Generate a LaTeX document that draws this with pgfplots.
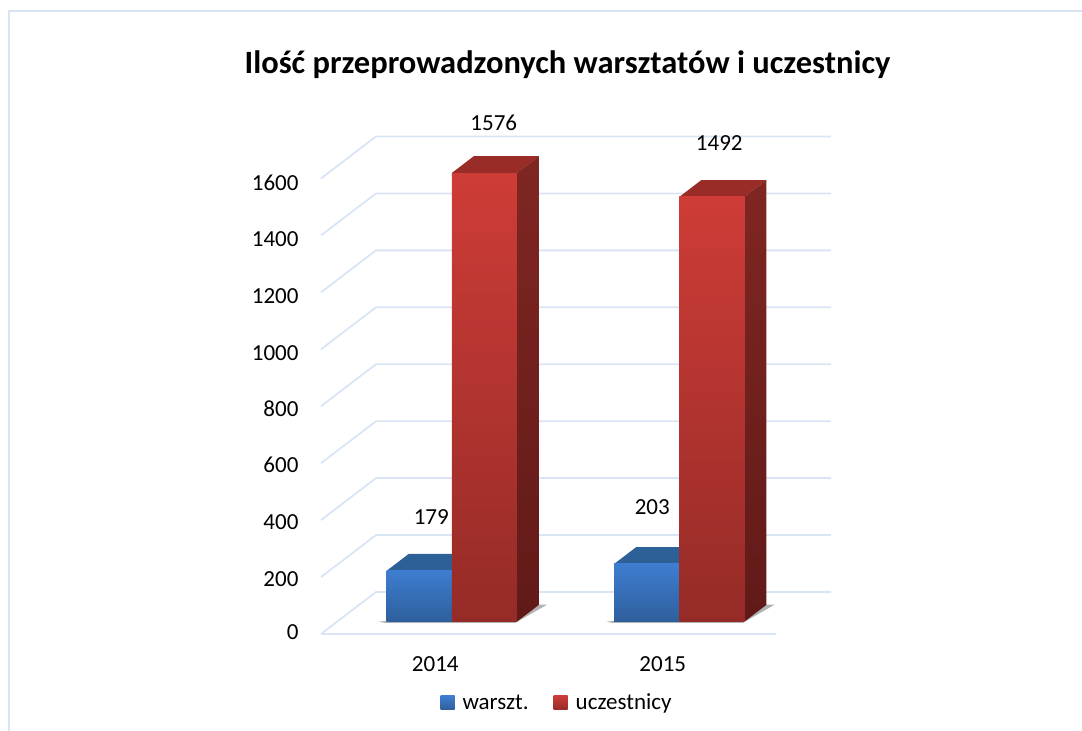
\documentclass[border=0pt]{standalone}
\usepackage{fontspec}
\setmainfont{Carlito}
\usepackage{pgfplots}
\pgfplotsset{compat=1.18}
\definecolor{gridc}{HTML}{D9E5F5}
\definecolor{blueT}{HTML}{3E7DD0}
\definecolor{blueB}{HTML}{2E5F9C}
\definecolor{blueTop}{HTML}{2E6098}
\definecolor{redT}{HTML}{CE3C37}
\definecolor{redB}{HTML}{952B27}
\definecolor{redTop}{HTML}{9A2C28}
\definecolor{redSideT}{HTML}{7F2622}
\definecolor{redSideB}{HTML}{611A18}
\begin{document}
\begin{tikzpicture}[x=1pt,y=1pt]
\useasboundingbox (0,0) rectangle (1082,731);
\draw[gridc,line width=2pt] (8.5,0) -- (8.5,720) -- (1082,720);
\node[font=\bfseries\fontsize{32.5}{36}\selectfont] at (567.5,666) {Ilość przeprowadzonych warsztatów i uczestnicy};
\begin{axis}[
  at={(321pt,97pt)}, anchor=south west,
  x={(227.5pt,0pt)}, y={(55pt,42pt)}, z={(0pt,0.2847pt)},
  xmin=0.5, xmax=2.5, ymin=0, ymax=1, zmin=0, zmax=1600,
  clip=false,
  axis line style={draw=none},
  major tick length=0pt,
  xtick={1,2}, xticklabels={2014,2015},
  ytick=\empty,
  ztick={0,200,400,600,800,1000,1200,1400,1600},
  font=\fontsize{23}{27}\selectfont,
  /pgf/number format/assume math mode=true,
  /pgf/number format/1000 sep={},
  xticklabel style={font=\fontsize{23}{27}\selectfont,yshift=-19pt,xshift=6pt},
  zticklabel style={font=\fontsize{23}{27}\selectfont,yshift=5pt,xshift=-19pt},
  legend columns=2,
  legend style={draw=none, fill=none, at={(0.5,-0.1)}, anchor=north, xshift=-19pt, yshift=-6pt,
    font=\fontsize{23}{27}\selectfont, /tikz/every even column/.append style={column sep=10pt}},
]
% walls
\addplot3[gridc,line width=1.8pt,forget plot] coordinates {(0.5,0,0) (2.5,0,0)};
\pgfplotsinvokeforeach{0,200,400,600,800,1000,1200,1400,1600}{
  \addplot3[gridc,line width=1.8pt,forget plot] coordinates {(0.5,0,#1) (0.5,1,#1) (2.5,1,#1)};
}
% shadows
\addplot3[draw=none,fill=gray!60,forget plot] coordinates {(0.683,0.293,0) (0.718,0.265,0) (1.29,0.265,0) (1.325,0.70,0) (1.29,0.70,0)} -- cycle;
\addplot3[draw=none,fill=gray!60,forget plot] coordinates {(1.683,0.293,0) (1.718,0.265,0) (2.29,0.265,0) (2.325,0.70,0) (2.29,0.70,0)} -- cycle;
% 2014 warszt.
\addplot3[draw=none,fill=blueTop,forget plot] coordinates {(0.718,0.293,179) (1.004,0.293,179) (1.004,0.693,179) (0.718,0.693,179)} -- cycle;
\addplot3[draw=none,top color=blueT,bottom color=blueB,forget plot] coordinates {(0.718,0.293,0) (1.004,0.293,0) (1.004,0.293,179) (0.718,0.293,179)} -- cycle;
% 2014 uczestnicy
\addplot3[draw=none,fill=redTop,forget plot] coordinates {(1.004,0.293,1576) (1.29,0.293,1576) (1.29,0.693,1576) (1.004,0.693,1576)} -- cycle;
\addplot3[draw=none,top color=redSideT,bottom color=redSideB,forget plot] coordinates {(1.29,0.293,0) (1.29,0.693,0) (1.29,0.693,1576) (1.29,0.293,1576)} -- cycle;
\addplot3[draw=none,top color=redT,bottom color=redB,forget plot] coordinates {(1.004,0.293,0) (1.29,0.293,0) (1.29,0.293,1576) (1.004,0.293,1576)} -- cycle;
% 2015 warszt.
\addplot3[draw=none,fill=blueTop,forget plot] coordinates {(1.718,0.293,203) (2.004,0.293,203) (2.004,0.693,203) (1.718,0.693,203)} -- cycle;
\addplot3[draw=none,top color=blueT,bottom color=blueB,forget plot] coordinates {(1.718,0.293,0) (2.004,0.293,0) (2.004,0.293,203) (1.718,0.293,203)} -- cycle;
% 2015 uczestnicy
\addplot3[draw=none,fill=redTop,forget plot] coordinates {(2.004,0.293,1492) (2.29,0.293,1492) (2.29,0.693,1492) (2.004,0.693,1492)} -- cycle;
\addplot3[draw=none,top color=redSideT,bottom color=redSideB,forget plot] coordinates {(2.29,0.293,0) (2.29,0.693,0) (2.29,0.693,1492) (2.29,0.293,1492)} -- cycle;
\addplot3[draw=none,top color=redT,bottom color=redB,forget plot] coordinates {(2.004,0.293,0) (2.29,0.293,0) (2.29,0.293,1492) (2.004,0.293,1492)} -- cycle;
% legend
\addlegendimage{legend image code/.code={\path[draw=none,fill=none] (0,0) -- (20pt,0); \path[draw=none,top color=blueT,bottom color=blueB] (0,-7pt) rectangle (14pt,7pt);}}
\addlegendentry{warszt.}
\addlegendimage{legend image code/.code={\path[draw=none,fill=none] (-13pt,0) -- (20pt,0); \path[draw=none,top color=redT,bottom color=redB] (0,-7pt) rectangle (14pt,7pt);}}
\addlegendentry{uczestnicy}
% data labels
\node at (axis cs:1.004,0.293,1576) [yshift=50.5pt,xshift=42pt] {1576};
\node at (axis cs:2.004,0.293,1492) [yshift=53.5pt,xshift=40pt] {1492};
\node at (axis cs:1.004,0.293,179) [yshift=54pt,xshift=-20.5pt] {179};
\node at (axis cs:2.004,0.293,203) [yshift=57pt,xshift=-27pt] {203};
\end{axis}
\end{tikzpicture}
\end{document}
